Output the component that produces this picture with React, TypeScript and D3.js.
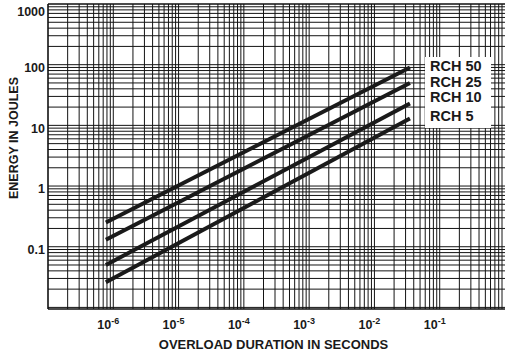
import React from "react";
import * as d3 from "d3";

// overload duration (s) where the curves begin and end
const durations = [7.7e-7, 3.5e-2];
const ratings = ["RCH 50", "RCH 25", "RCH 10", "RCH 5"];
const energyAtStart = [0.25, 0.13, 0.05, 0.026];
const energyAtEnd = [90, 50, 23, 13];

const xTickExps = [-6, -5, -4, -3, -2, -1];
const yTickValues = [0.1, 1, 10, 100, 1000];
const yTickLabels = ["0.1", "1", "10", "100", "1000"];

const W = 505;
const H = 355;
const left = 48;
const top = 4;
const bottom = 309;

const font = "'Liberation Sans', Arial, Helvetica, sans-serif";

export default function App() {
  const x = d3.scaleLog().domain([1e-7, 1]).range([left, W]);
  const y = d3.scaleLog().domain([0.01, 1000]).range([307.4, top]);

  // full log grid, every 1..9 of each decade
  const xGrid: number[] = [];
  for (let e = -7; e <= 0; e++)
    for (let k = 1; k <= 9; k++) {
      const px = x(k * Math.pow(10, e));
      if (px > left + 0.5 && px < W) xGrid.push(px);
    }
  const yGrid: number[] = [];
  for (let e = -3; e <= 3; e++)
    for (let k = 1; k <= 9; k++) {
      const py = y(k * Math.pow(10, e));
      if (py > top + 0.5 && py < bottom - 0.5) yGrid.push(py);
    }

  const line = d3
    .line<[number, number]>()
    .x((d) => x(d[0]))
    .y((d) => y(d[1]));

  const labelY = [66, 81.5, 97, 116];

  return (
    <svg
      width={W}
      height={H}
      style={{ position: "absolute", left: 0, top: 0, background: "#fff" }}
      fontFamily={font}
      fontWeight="bold"
    >
      <rect x={0} y={0} width={W} height={H} fill="#fff" />
      <g stroke="#141414" strokeWidth={1}>
        {xGrid.map((px, i) => (
          <line key={"x" + i} x1={px} x2={px} y1={top} y2={bottom} />
        ))}
        {yGrid.map((py, i) => (
          <line key={"y" + i} x1={left} x2={W} y1={py} y2={py} />
        ))}
      </g>
      <g stroke="#111" strokeWidth={1.6} fill="none">
        <line x1={left} x2={left} y1={top} y2={bottom} />
        <line x1={left} x2={W} y1={bottom} y2={bottom} />
        <line x1={left} x2={W} y1={top} y2={top} />
      </g>

      <g stroke="#1a1a1a" strokeWidth={4} fill="none" strokeLinecap="butt">
        {ratings.map((r, i) => (
          <path
            key={r}
            d={
              line([
                [durations[0], energyAtStart[i]],
                [durations[1], energyAtEnd[i]],
              ]) || ""
            }
          />
        ))}
      </g>

      <rect x={425} y={57} width={66} height={71} fill="#fff" />
      <g fontSize={14.5} fill="#1a1a1a">
        {ratings.map((r, i) => (
          <text key={r} x={430} y={labelY[i]} dy="0.35em">
            {r}
          </text>
        ))}
      </g>

      <g fontSize={12.5} fill="#1a1a1a" textAnchor="end">
        {yTickValues.map((v, i) => (
          <text key={v} x={45} y={Math.max(y(v) + 3, 12)} dy="0.35em">
            {yTickLabels[i]}
          </text>
        ))}
      </g>

      <g fontSize={12.5} fill="#1a1a1a" textAnchor="middle">
        {xTickExps.map((e) => (
          <text key={e} x={x(Math.pow(10, e)) - 5} y={329}>
            10
            <tspan fontSize={9} dy={-5}>
              {e}
            </tspan>
          </text>
        ))}
      </g>

      <text
        x={273.5}
        y={349}
        fontSize={13}
        textAnchor="middle"
        fill="#1a1a1a"
      >
        OVERLOAD DURATION IN SECONDS
      </text>
      <text
        transform="translate(18,138) rotate(-90)"
        fontSize={12.5}
        textAnchor="middle"
        fill="#1a1a1a"
      >
        ENERGY IN JOULES
      </text>
    </svg>
  );
}
